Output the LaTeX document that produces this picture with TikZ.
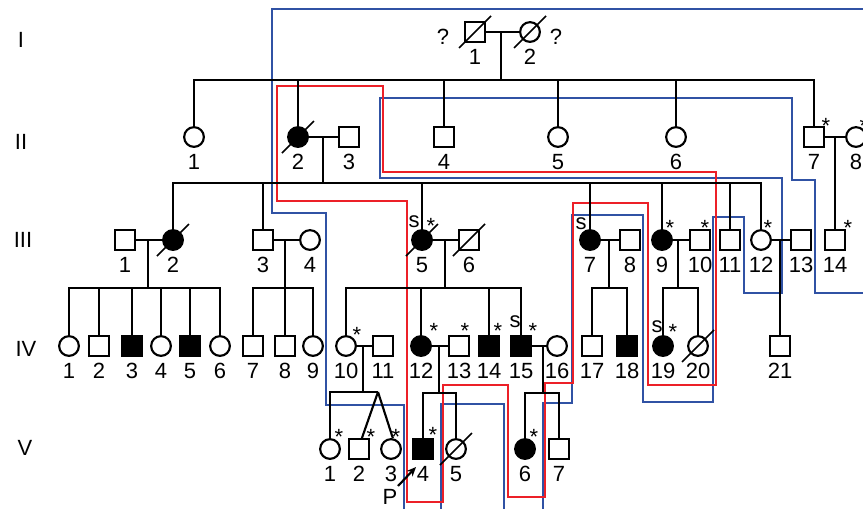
\documentclass[tikz,border=0pt]{standalone}
\usepackage{fontspec}
\setmainfont{Liberation Sans}
\usetikzlibrary{arrows.meta,calc}
\definecolor{routered}{RGB}{236,32,40}
\definecolor{routeblue}{RGB}{48,82,164}

\tikzset{
  every node/.style={font=\fontsize{16.5}{19}\selectfont},
  person/.style={draw=black, line width=1.6pt, minimum size=14.8pt, inner sep=0pt, fill=white},
  male/.style={person, rectangle},
  female/.style={person, circle},
  aff/.style={fill=black},
  lbl/.style={inner sep=0pt},
  note/.style={inner sep=0pt},
  kin/.style={line width=1.6pt, draw=black},
  deadmark/.style={line width=1.3pt, draw=black},
  redroute/.style={line width=2.2pt, draw=routered, line join=miter},
  blueroute/.style={line width=2.2pt, draw=routeblue, line join=miter},
}

% individual: name, x, y, style, number
\newcommand\indiv[5]{%
  \node[#4] (#1) at (#2,#3) {};
  \node[lbl] (#1-n) at (#2,#3+25) {#5};}
% deceased slash through an individual
\newcommand\deceased[1]{%
  \draw[deadmark] ($(#1)+(-16,16)$) -- ($(#1)+(16,-16)$);}

\begin{document}
\begin{tikzpicture}[x=0.75pt,y=-0.75pt]
\useasboundingbox (0,0) rectangle (863,508);
\clip (0,0) rectangle (863,508);

% ---- transmission routes ----
\draw[blueroute] (272,9) -- (272,213) -- (326,213) -- (326,405) -- (404,405)
  -- (404,530) -- (441,530) -- (441,404) -- (504,404) -- (504,530)
  -- (543,530) -- (543,403) -- (572,403) -- (572,215) -- (643,215)
  -- (643,402) -- (713,402) -- (713,217) -- (744,217) -- (744,293)
  -- (782,293) -- (782,178) -- (380,178) -- (380,98) -- (792,98)
  -- (792,180) -- (815,180) -- (815,293) -- (890,293) -- (890,9) -- cycle;
\draw[redroute] (277,86) -- (383,86) -- (383,172) -- (716,172) -- (716,385)
  -- (648,385) -- (648,203) -- (573,203) -- (573,383) -- (545,383)
  -- (545,497) -- (508,497) -- (508,385) -- (443,385) -- (443,502)
  -- (407,502) -- (407,201) -- (277,201) -- cycle;

% ---- generation numerals ----
\node[lbl] (gI)   at (21,40)  {I};
\node[lbl] (gII)  at (21,142) {II};
\node[lbl] (gIII) at (23,240) {III};
\node[lbl] (gIV)  at (26,349) {IV};
\node[lbl] (gV)   at (25,448) {V};

% ---- generation I ----
\indiv{I1}{475}{32}{male}{1}
\indiv{I2}{530}{32}{female}{2}
\deceased{I1}\deceased{I2}
\node[note] (I1-q) at (443,37) {?};
\node[note] (I2-q) at (556,37) {?};

% ---- generation II ----
\indiv{II1}{194}{137}{female}{1}
\indiv{II2}{298}{137}{female,aff}{2}
\indiv{II3}{349}{137}{male}{3}
\indiv{II4}{444}{137}{male}{4}
\indiv{II5}{558}{137}{female}{5}
\indiv{II6}{676}{137}{female}{6}
\indiv{II7}{814}{137}{male}{7}
\indiv{II8}{856}{137}{female}{8}
\deceased{II2}
\node[note] (II7-st) at (826,126) {*};
\node[note] (II8-st) at (864,126) {*};

% ---- generation III ----
\indiv{III1}{125}{240}{male}{1}
\indiv{III2}{173}{240}{female,aff}{2}
\indiv{III3}{263}{240}{male}{3}
\indiv{III4}{310}{240}{female}{4}
\indiv{III5}{422}{240}{female,aff}{5}
\indiv{III6}{469}{240}{male}{6}
\indiv{III7}{590}{240}{female,aff}{7}
\indiv{III8}{630}{240}{male}{8}
\indiv{III9}{662}{240}{female,aff}{9}
\indiv{III10}{700}{240}{male}{10}
\indiv{III11}{730}{240}{male}{11}
\indiv{III12}{761}{240}{female}{12}
\indiv{III13}{801}{240}{male}{13}
\indiv{III14}{835}{240}{male}{14}
\deceased{III2}\deceased{III5}\deceased{III6}
\node[note] (III5-s)   at (414,222) {s};
\node[note] (III5-st)  at (431,226) {*};
\node[note] (III7-s)   at (581,224) {s};
\node[note] (III9-st)  at (670,228) {*};
\node[note] (III10-st) at (705,228) {*};
\node[note] (III12-st) at (768,228) {*};
\node[note] (III14-st) at (848,228) {*};

% ---- generation IV ----
\indiv{IV1}{69}{346}{female}{1}
\indiv{IV2}{99}{346}{male}{2}
\indiv{IV3}{132}{346}{male,aff}{3}
\indiv{IV4}{161}{346}{female}{4}
\indiv{IV5}{190}{346}{male,aff}{5}
\indiv{IV6}{220}{346}{female}{6}
\indiv{IV7}{253}{346}{male}{7}
\indiv{IV8}{285}{346}{male}{8}
\indiv{IV9}{313}{346}{female}{9}
\indiv{IV10}{346}{346}{female}{10}
\indiv{IV11}{383}{346}{male}{11}
\indiv{IV12}{421}{346}{female,aff}{12}
\indiv{IV13}{459}{346}{male}{13}
\indiv{IV14}{489}{346}{male,aff}{14}
\indiv{IV15}{521}{346}{male,aff}{15}
\indiv{IV16}{557}{346}{female}{16}
\indiv{IV17}{592}{346}{male}{17}
\indiv{IV18}{627}{346}{male,aff}{18}
\indiv{IV19}{663}{346}{female,aff}{19}
\indiv{IV20}{698}{346}{female}{20}
\indiv{IV21}{780}{346}{male}{21}
\deceased{IV20}
\node[note] (IV10-st) at (357,335) {*};
\node[note] (IV12-st) at (434,331) {*};
\node[note] (IV13-st) at (465,331) {*};
\node[note] (IV14-st) at (498,331) {*};
\node[note] (IV15-s)  at (515,322) {s};
\node[note] (IV15-st) at (533,331) {*};
\node[note] (IV19-s)  at (657,327) {s};
\node[note] (IV19-st) at (673,332) {*};

% ---- generation V ----
\indiv{V1}{330}{449}{female}{1}
\indiv{V2}{359}{449}{male}{2}
\indiv{V3}{391}{449}{female}{3}
\indiv{V4}{423}{449}{male,aff}{4}
\indiv{V5}{456}{449}{female}{5}
\indiv{V6}{525}{449}{female,aff}{6}
\indiv{V7}{559}{449}{male}{7}
\deceased{V5}
\node[note] (V1-st) at (339,437) {*};
\node[note] (V2-st) at (371,437) {*};
\node[note] (V3-st) at (396,437) {*};
\node[note] (V4-st) at (433,435) {*};
\node[note] (V6-st) at (534,437) {*};

% proband
\node[lbl] (proband) at (390,497) {P};
\coordinate (ptail) at (398,486);
\coordinate (phead) at (416,467);
\draw[kin,-{Stealth[length=7pt,width=6pt]}] (ptail) -- (phead);

% ---- unions and sibships ----
% I-1 x I-2
\coordinate (mI) at (501,32); \coordinate (sI) at (501,80);
\draw[kin] (I1) -- (I2); \draw[kin] (mI) -- (sI);
\draw[kin] (II1.north) |- (sI) -| (II7.north);
\foreach \c in {II2,II4,II5,II6} \draw[kin] (\c.north) -- (\c.north |- sI);

% II-2 x II-3
\coordinate (mII) at (323,137); \coordinate (sII) at (323,183);
\draw[kin] (II2) -- (II3); \draw[kin] (mII) -- (sII);
\draw[kin] (III2.north) |- (sII) -| (III12.north);
\foreach \c in {III3,III5,III7,III9,III11} \draw[kin] (\c.north) -- (\c.north |- sII);

% II-7 x II-8
\coordinate (mII78) at (835,137);
\draw[kin] (II7) -- (II8); \draw[kin] (mII78) -- (III14.north);

% III-1 x III-2
\coordinate (mIIIa) at (148,240); \coordinate (sIIIa) at (148,288);
\draw[kin] (III1) -- (III2); \draw[kin] (mIIIa) -- (sIIIa);
\draw[kin] (IV1.north) |- (sIIIa) -| (IV6.north);
\foreach \c in {IV2,IV3,IV4,IV5} \draw[kin] (\c.north) -- (\c.north |- sIIIa);

% III-3 x III-4
\coordinate (mIIIb) at (285,240); \coordinate (sIIIb) at (285,288);
\draw[kin] (III3) -- (III4); \draw[kin] (mIIIb) -- (sIIIb);
\draw[kin] (IV7.north) |- (sIIIb) -| (IV9.north);
\draw[kin] (IV8.north) -- (IV8.north |- sIIIb);

% III-5 x III-6
\coordinate (mIIIc) at (445,240); \coordinate (sIIIc) at (445,288);
\draw[kin] (III5) -- (III6); \draw[kin] (mIIIc) -- (sIIIc);
\draw[kin] (IV10.north) |- (sIIIc) -| (IV15.north);
\foreach \c in {IV12,IV14} \draw[kin] (\c.north) -- (\c.north |- sIIIc);

% III-7 x III-8
\coordinate (mIIId) at (609,240); \coordinate (sIIId) at (609,288);
\draw[kin] (III7) -- (III8); \draw[kin] (mIIId) -- (sIIId);
\draw[kin] (IV17.north) |- (sIIId) -| (IV18.north);

% III-9 x III-10
\coordinate (mIIIe) at (678,240); \coordinate (sIIIe) at (678,288);
\draw[kin] (III9) -- (III10); \draw[kin] (mIIIe) -- (sIIIe);
\draw[kin] (IV19.north) |- (sIIIe) -| (IV20.north);

% III-12 x III-13
\coordinate (mIIIf) at (780,240);
\draw[kin] (III12) -- (III13); \draw[kin] (mIIIf) -- (IV21.north);

% IV-10 x IV-11, with dizygotic twins V-2 and V-3
\coordinate (mIVa) at (363,346); \coordinate (sIVa) at (363,392);
\coordinate (twin) at (378,392);
\draw[kin] (IV10) -- (IV11); \draw[kin] (mIVa) -- (sIVa);
\draw[kin] (V1.north) |- (twin);
\draw[kin] (twin) -- (V2.75);
\draw[kin] (twin) -- (V3.80);

% IV-12 x IV-13
\coordinate (mIVb) at (439,346); \coordinate (sIVb) at (439,393);
\draw[kin] (IV12) -- (IV13); \draw[kin] (mIVb) -- (sIVb);
\draw[kin] (V4.north) |- (sIVb) -| (V5.north);

% IV-15 x IV-16
\coordinate (mIVc) at (543,346); \coordinate (sIVc) at (543,393);
\draw[kin] (IV15) -- (IV16); \draw[kin] (mIVc) -- (sIVc);
\draw[kin] (V6.north) |- (sIVc) -| (V7.north);
\end{tikzpicture}
\end{document}
